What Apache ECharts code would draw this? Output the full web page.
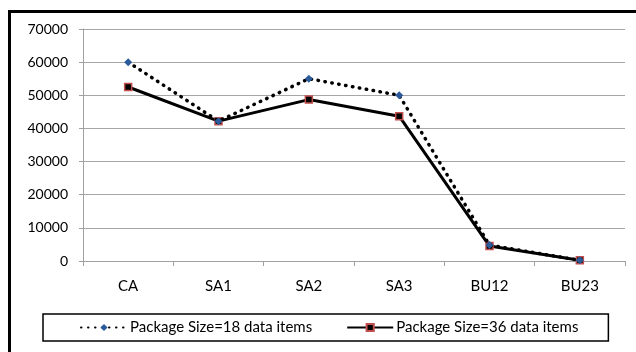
<!DOCTYPE html>
<html>
<head>
<meta charset="utf-8">
<script src="https://cdn.jsdelivr.net/npm/echarts@6/dist/echarts.min.js"></script>
<style>
  html, body { margin: 0; padding: 0; background: #fff; }
  #chart { width: 636px; height: 352px; }
</style>
</head>
<body>
<div id="chart"></div>
<script>
// Categories on the x axis
const categories = ['CA', 'SA1', 'SA2', 'SA3', 'BU12', 'BU23'];

// Series values
const size18 = [60000, 42200, 55000, 50000, 4800, 200];
const size36 = [52500, 42200, 48700, 43700, 4500, 200];

const seriesNames = ['Package Size=18 data items', 'Package Size=36 data items'];

const FONT = 'Lato, "Open Sans", sans-serif';

const chart = echarts.init(document.getElementById('chart'), null, { renderer: 'canvas' });

chart.setOption({
  animation: false,
  backgroundColor: '#ffffff',
  graphic: [{
    type: 'rect',
    shape: { x: 9.5, y: 11.5, width: 640, height: 360 },
    style: { fill: 'none', stroke: '#000', lineWidth: 3 },
    silent: true,
    z: 100
  }],
  grid: { left: 83, right: 11, top: 29, bottom: 91 },
  legend: {
    left: 43,
    top: 314,
    padding: [6, 30, 6, 37],
    itemGap: 34,
    itemWidth: 46,
    itemHeight: 9,
    borderColor: '#000',
    borderWidth: 1.5,
    textStyle: { fontFamily: FONT, fontSize: 15, color: '#000', padding: [0, 0, 0, -2] },
    data: seriesNames
  },
  xAxis: {
    type: 'category',
    data: categories,
    boundaryGap: true,
    axisLine: { lineStyle: { color: '#a0a0a0', width: 1 } },
    axisTick: { show: true, length: 5, lineStyle: { color: '#a0a0a0' } },
    axisLabel: { fontFamily: FONT, fontSize: 15, color: '#000', margin: 18 }
  },
  yAxis: {
    type: 'value',
    min: 0,
    max: 70000,
    interval: 10000,
    axisLine: { show: true, lineStyle: { color: '#a0a0a0', width: 1 } },
    axisTick: { show: true, length: 4, lineStyle: { color: '#a0a0a0' } },
    axisLabel: { fontFamily: FONT, fontSize: 14, color: '#000', margin: 15,
                 formatter: v => String(v) },
    splitLine: { lineStyle: { color: '#a6a6a6', width: 1 } }
  },
  series: [
    {
      name: seriesNames[0],
      type: 'line',
      data: size18,
      symbol: 'diamond',
      symbolSize: 8,
      itemStyle: { color: '#2a5a9a', borderColor: '#2a5a9a', borderWidth: 0 },
      lineStyle: { color: '#000', width: 3.5, type: [0.5, 6.5], cap: 'round' },
      z: 3
    },
    {
      name: seriesNames[1],
      type: 'line',
      data: size36,
      symbol: 'rect',
      symbolSize: 7,
      itemStyle: { color: '#000', borderColor: '#c0504d', borderWidth: 1.5 },
      lineStyle: { color: '#000', width: 3 },
      z: 2
    }
  ]
});
</script>
</body>
</html>
